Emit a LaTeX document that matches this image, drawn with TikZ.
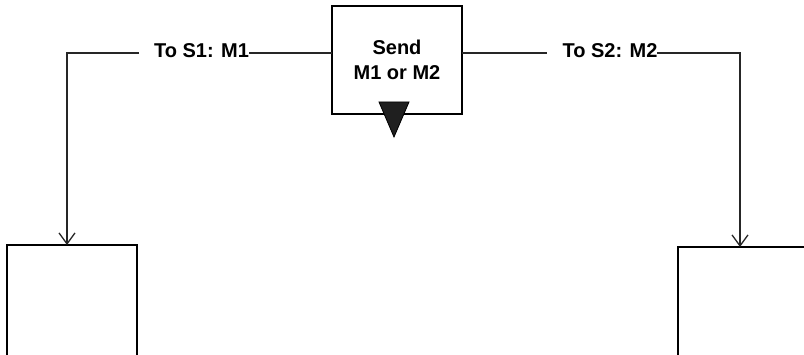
\documentclass[tikz,border=0pt]{standalone}
\usepackage{fontspec}
\setmainfont{Liberation Sans}
\usetikzlibrary{arrows.meta}
\tikzset{block/.style={draw, line width=1.3pt, minimum width=130pt, minimum height=108pt}}
\tikzset{msg/.style={font=\bfseries\fontsize{20}{25}\selectfont}}
\tikzset{wire/.style={line width=1.3pt, black!85}}
\tikzset{barb/.style={-{Straight Barb[length=11pt,width=16pt,line width=1.3pt]}}}

\begin{document}
\begin{tikzpicture}[x=1pt,y=1pt,every node/.style={inner sep=0,outer sep=0}]
\useasboundingbox (0,0) rectangle (804,354);
% Sender
\node[block, msg, align=center] (send) at (397,294) {Send\\M1 or M2};
% Marker
\coordinate (mark) at (394,252);
\filldraw[fill=black!88, line width=0.8pt] (mark) ++(-15,0) -- ++(30,0) -- ++(-15,-35) -- cycle;
% Receivers
\node[block, minimum height=113pt] (recv1) at (72,52.5) {};
\node[block, minimum height=111pt] (recv2) at (743,51.5) {};
% Corners
\coordinate (c1) at (67,301);
\coordinate (c2) at (740,301);
% Labels
\node[msg, anchor=base] (m1) at (201.5,296) {To S1: M1};
\node[msg, anchor=base] (m2) at (610,296) {To S2: M2};
% To S1
\draw[wire] (send.west |- c1) -- (m1.east |- c1);
\draw[wire, barb] ([xshift=-15pt]m1.west |- c1) -- (c1) -- (c1 |- recv1.north);
% To S2
\draw[wire] (send.east |- c2) -- ([xshift=-16pt]m2.west |- c2);
\draw[wire, barb] (m2.east |- c2) -- (c2) -- (c2 |- recv2.north);
\end{tikzpicture}
\end{document}
